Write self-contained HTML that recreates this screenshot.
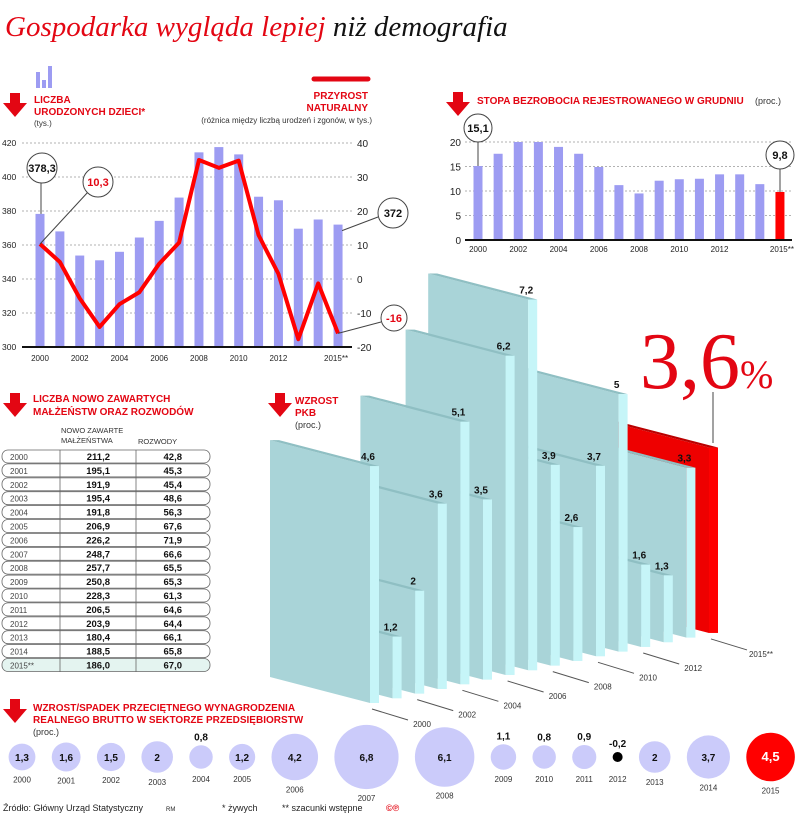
<!DOCTYPE html>
<html><head><meta charset="utf-8"><style>
html,body{margin:0;padding:0;background:#fff;}
svg{display:block;font-family:"Liberation Sans",sans-serif;}
.h{font-weight:bold;fill:#e30613;font-size:10px;}
.s{font-size:8px;fill:#333;}
</style></head><body>
<svg id="root" width="805" height="822" viewBox="0 0 805 822" xmlns="http://www.w3.org/2000/svg">
<text x="5" y="36" font-family="Liberation Serif, serif" font-style="italic" font-size="29"><tspan fill="#e30613">Gospodarka wygląda lepiej</tspan><tspan fill="#111"> niż demografia</tspan></text>
<g id="g1"></g>
<g id="g2"></g>
<g id="g3"></g>
<g id="g4"></g>
<g id="g5"></g>
<g font-size="9" fill="#222">
<text x="3" y="811">Źródło: Główny Urząd Statystyczny</text>
<text x="166" y="811" font-size="6">RM</text>
<text x="222" y="811">* żywych</text>
<text x="282" y="811">** szacunki wstępne</text>
<text x="386" y="811" fill="#e30613" font-weight="bold">©℗</text>
</g>
</svg>
<script>
const years=['2000','2001','2002','2003','2004','2005','2006','2007','2008','2009','2010','2011','2012','2013','2014','2015'];
const births=[378.3,368,353.8,351,356,364.4,374.2,387.9,414.5,417.6,413.3,388.4,386.3,369.6,375,372];
const naturalIncrease=[10.3,5,-5.7,-14.1,-7.4,-3.9,4.5,10.7,35,32.7,34.8,12.9,1.5,-17.7,-1.3,-16];
const birthTicks=[300,320,340,360,380,400,420];
const niTicks=[-20,-10,0,10,20,30,40];
const unemployment=[15.1,17.6,20,20,19,17.6,14.9,11.2,9.5,12.1,12.4,12.5,13.4,13.4,11.4,9.8];
const unempTicks=[0,5,10,15,20];
const marriages=['211,2','195,1','191,9','195,4','191,8','206,9','226,2','248,7','257,7','250,8','228,3','206,5','203,9','180,4','188,5','186,0'];
const divorces=['42,8','45,3','45,4','48,6','56,3','67,6','71,9','66,6','65,5','65,3','61,3','64,6','64,4','66,1','65,8','67,0'];
const gdp=[4.6,1.2,2,3.6,5.1,3.5,6.2,7.2,3.9,2.6,3.7,5,1.6,1.3,3.3,3.6];
const gdpLabels=['4,6','1,2','2','3,6','5,1','3,5','6,2','7,2','3,9','2,6','3,7','5','1,6','1,3','3,3',''];
const wages=[1.3,1.6,1.5,2,0.8,1.2,4.2,6.8,6.1,1.1,0.8,0.9,-0.2,2,3.7,4.5];
const wageLabels=['1,3','1,6','1,5','2','0,8','1,2','4,2','6,8','6,1','1,1','0,8','0,9','-0,2','2','3,7','4,5'];

const NS='http://www.w3.org/2000/svg';
function mk(p,t,a,txt){const e=document.createElementNS(NS,t);for(const k in a)e.setAttribute(k,a[k]);if(txt!==undefined)e.textContent=txt;p.appendChild(e);return e;}
function arrow(p,x,y){const e=mk(p,'path',{d:`M${x+7},${y} h10 v10 h7 l-12,14 l-12,-14 h7 z`,fill:'#e30613'});

}
function callout(p,cx,cy,r,txt,col,lx1,ly1,lx2,ly2){
 mk(p,'line',{x1:lx1,y1:ly1,x2:lx2,y2:ly2,stroke:'#444','stroke-width':1});
 const c=mk(p,'circle',{cx:cx,cy:cy,r:r,fill:'#fff',stroke:'#444','stroke-width':1});
 
 
 mk(p,'text',{x:cx,y:cy+4,'text-anchor':'middle','font-weight':'bold','font-size':11,fill:col},txt);}

// ---- chart 1
const g1=document.getElementById('g1');
const yL=v=>347-(v-300)*1.7, yR=v=>347-(v+20)*3.4, x1=i=>40+19.87*i;
mk(g1,'rect',{x:36,y:72,width:4,height:16,fill:'#9d9cf2'});mk(g1,'rect',{x:42,y:80,width:4,height:8,fill:'#9d9cf2'});mk(g1,'rect',{x:48,y:66,width:4,height:22,fill:'#9d9cf2'});
arrow(g1,3,93);
mk(g1,'text',{x:34,y:103,class:'h'},'LICZBA');mk(g1,'text',{x:34,y:115,class:'h'},'URODZONYCH DZIECI*');mk(g1,'text',{x:34,y:126,class:'s'},'(tys.)');
mk(g1,'line',{x1:314,y1:79,x2:368,y2:79,stroke:'#e30613','stroke-width':5,'stroke-linecap':'round'});
mk(g1,'text',{x:368,y:99,class:'h','text-anchor':'end'},'PRZYROST');mk(g1,'text',{x:368,y:111,class:'h','text-anchor':'end'},'NATURALNY');
mk(g1,'text',{x:372,y:123,class:'s','text-anchor':'end','font-size':7.5},'(różnica między liczbą urodzeń i zgonów, w tys.)');
birthTicks.forEach(t=>{const y=yL(t);if(t>300)mk(g1,'line',{x1:22,y1:y,x2:352,y2:y,stroke:'#999','stroke-dasharray':'2,2','stroke-width':0.8});
 mk(g1,'text',{x:2,y:y+3,'font-size':8.5,fill:'#222'},t);});
niTicks.forEach(t=>{mk(g1,'text',{x:357,y:yR(t)+4,'font-size':10,fill:'#222'},t);});
births.forEach((v,i)=>{const r=mk(g1,'rect',{x:x1(i)-4.5,y:yL(v),width:9,height:347-yL(v),fill:'#9d9cf2'});
 
 });
mk(g1,'line',{x1:22,y1:347,x2:352,y2:347,stroke:'#111','stroke-width':2});
const pl=mk(g1,'polyline',{points:naturalIncrease.map((v,i)=>x1(i)+','+yR(v)).join(' '),fill:'none',stroke:'#f00','stroke-width':4,'stroke-linejoin':'round'});


years.forEach((y,i)=>{if(i%2==0&&i<14)mk(g1,'text',{x:x1(i),y:361,'font-size':8,'text-anchor':'middle',fill:'#222'},y);});
mk(g1,'text',{x:x1(15)-2,y:361,'font-size':8,'text-anchor':'middle',fill:'#222'},'2015**');
callout(g1,42,168,15,'378,3','#111',41,183,41,yL(births[0]));
callout(g1,98,182,15,'10,3','#e30613',88,192,x1(0),yR(naturalIncrease[0]));
callout(g1,393,213,15,'372','#111',378,217,x1(15)+4,yL(births[15])+6);
callout(g1,394,318,13,'-16','#e30613',381,322,x1(15),yR(naturalIncrease[15]));

// ---- chart 2
const g2=document.getElementById('g2');
const yU=v=>240-v*4.9, x2=i=>478+20.13*i;
arrow(g2,446,92);
mk(g2,'text',{x:477,y:104,class:'h'},'STOPA BEZROBOCIA REJESTROWANEGO W GRUDNIU');
mk(g2,'text',{x:755,y:104,'font-size':9,fill:'#333'},'(proc.)');
unempTicks.forEach(t=>{const y=yU(t);if(t>0)mk(g2,'line',{x1:465,y1:y,x2:792,y2:y,stroke:'#999','stroke-dasharray':'2,2','stroke-width':0.8});
 mk(g2,'text',{x:461,y:y+4,'font-size':10,'text-anchor':'end',fill:'#222'},t);});
unemployment.forEach((v,i)=>{const r=mk(g2,'rect',{x:x2(i)-4.5,y:yU(v),width:9,height:240-yU(v),fill:i==15?'#f00':'#9d9cf2'});
 
 });
mk(g2,'line',{x1:465,y1:240,x2:792,y2:240,stroke:'#111','stroke-width':2});
['2000','2002','2004','2006','2008','2010','2012'].forEach((y,k)=>mk(g2,'text',{x:x2(k*2),y:252,'font-size':8,'text-anchor':'middle',fill:'#222'},y));
mk(g2,'text',{x:x2(15)+2,y:252,'font-size':8,'text-anchor':'middle',fill:'#222'},'2015**');
callout(g2,478,128,14,'15,1','#111',478,142,478,yU(unemployment[0]));
callout(g2,780,155,14,'9,8','#111',780,169,780,yU(unemployment[15]));

// ---- table
const g3=document.getElementById('g3');
arrow(g3,3,393);
mk(g3,'text',{x:33,y:402,class:'h'},'LICZBA NOWO ZAWARTYCH');mk(g3,'text',{x:33,y:415,class:'h'},'MAŁŻEŃSTW ORAZ ROZWODÓW');
mk(g3,'text',{x:61,y:433,'font-size':7.5,fill:'#333'},'NOWO ZAWARTE');mk(g3,'text',{x:61,y:443,'font-size':7.5,fill:'#333'},'MAŁŻEŃSTWA');
mk(g3,'text',{x:138,y:444,'font-size':7.5,fill:'#333'},'ROZWODY');
years.forEach((y,i)=>{const ty=450+13.9*i;
 const r=mk(g3,'rect',{x:2,y:ty,width:208,height:13,rx:6,fill:i==15?'#e4f4f0':'#fff',stroke:'#666','stroke-width':0.8});
 
 
 mk(g3,'text',{x:10,y:ty+10,'font-size':8,fill:'#444'},i==15?'2015**':y);
 mk(g3,'text',{x:110,y:ty+10,'font-size':9.5,'font-weight':'bold','text-anchor':'end',fill:'#111'},marriages[i]);
 mk(g3,'text',{x:182,y:ty+10,'font-size':9.5,'font-weight':'bold','text-anchor':'end',fill:'#111'},divorces[i]);});
mk(g3,'line',{x1:60,y1:450,x2:60,y2:672,stroke:'#666','stroke-width':0.8});
mk(g3,'line',{x1:136,y1:450,x2:136,y2:672,stroke:'#666','stroke-width':0.8});

// ---- 3D GDP
const g4=document.getElementById('g4');
arrow(g4,268,393);
mk(g4,'text',{x:295,y:404,class:'h'},'WZROST');mk(g4,'text',{x:295,y:416,class:'h'},'PKB');mk(g4,'text',{x:295,y:428,'font-size':9,fill:'#333'},'(proc.)');
const fx=i=>370+22.6*i, fb=i=>703-4.67*i, hs=v=>v*51.5;
for(let i=15;i>=0;i--){const x=fx(i),b=fb(i),t=b-hs(gdp[i]);const red=i==15;
 const s=mk(g4,'g',{});
 
 
 mk(s,'polygon',{points:`${x},${b} ${x},${t} ${x-100},${t-26} ${x-100},${b-26}`,fill:red?'#e00':'#a9d4d8'});
 mk(s,'polygon',{points:`${x},${t} ${x+9},${t} ${x-91},${t-26} ${x-100},${t-26}`,fill:red?'#b00':'#8fbfc3'});
 mk(s,'rect',{x:x,y:t,width:9,height:b-t,fill:red?'#f00':'#c6f5f8'});
 if(gdpLabels[i])mk(s,'text',{x:x-2,y:t-6,'font-size':10,'font-weight':'bold','text-anchor':'middle',fill:'#111'},gdpLabels[i]);
 if(i%2==0&&i<14||i==15){mk(g4,'line',{x1:x+2,y1:b+6,x2:x+38,y2:b+17,stroke:'#555','stroke-width':1});
  mk(g4,'text',{x:x+52,y:b+24,'font-size':8,'text-anchor':'middle',fill:'#333'},i==15?'2015**':years[i]);}}
const big=mk(g4,'text',{x:640,y:388,'font-family':'Liberation Serif, serif',fill:'#e30613','font-size':80},'3,6');


mk(g4,'text',{x:740,y:388,'font-family':'Liberation Serif, serif',fill:'#e30613','font-size':40},'%');
mk(g4,'line',{x1:713,y1:392,x2:713,y2:443,stroke:'#444','stroke-width':1});

// ---- wages bubbles
const g5=document.getElementById('g5');
arrow(g5,3,699);
mk(g5,'text',{x:33,y:711,class:'h'},'WZROST/SPADEK PRZECIĘTNEGO WYNAGRODZENIA');
mk(g5,'text',{x:33,y:723,class:'h'},'REALNEGO BRUTTO  W SEKTORZE PRZEDSIĘBIORSTW');
mk(g5,'text',{x:33,y:735,'font-size':9,fill:'#333'},'(proc.)');
const rad=v=>v<0?5:9+3.4*v;
let cx=22;
wages.forEach((v,i)=>{if(i>0)cx+=rad(wages[i-1])+rad(v)+16.3;const r=rad(v),cy=757;
 const c=mk(g5,'circle',{cx:cx,cy:cy,r:r,fill:v<0?'#000':(i==15?'#f00':'#cbcbfa')});
 
 
 const inside=r>=13;
 mk(g5,'text',{x:cx,y:inside?cy+4:cy-r-5,'font-size':i==15?13:10,'font-weight':'bold','text-anchor':'middle',fill:i==15?'#fff':'#111'},wageLabels[i]);
 mk(g5,'text',{x:cx,y:cy+Math.max(r,13)+12,'font-size':8,'text-anchor':'middle',fill:'#333'},years[i]);});
</script>
</body></html>
